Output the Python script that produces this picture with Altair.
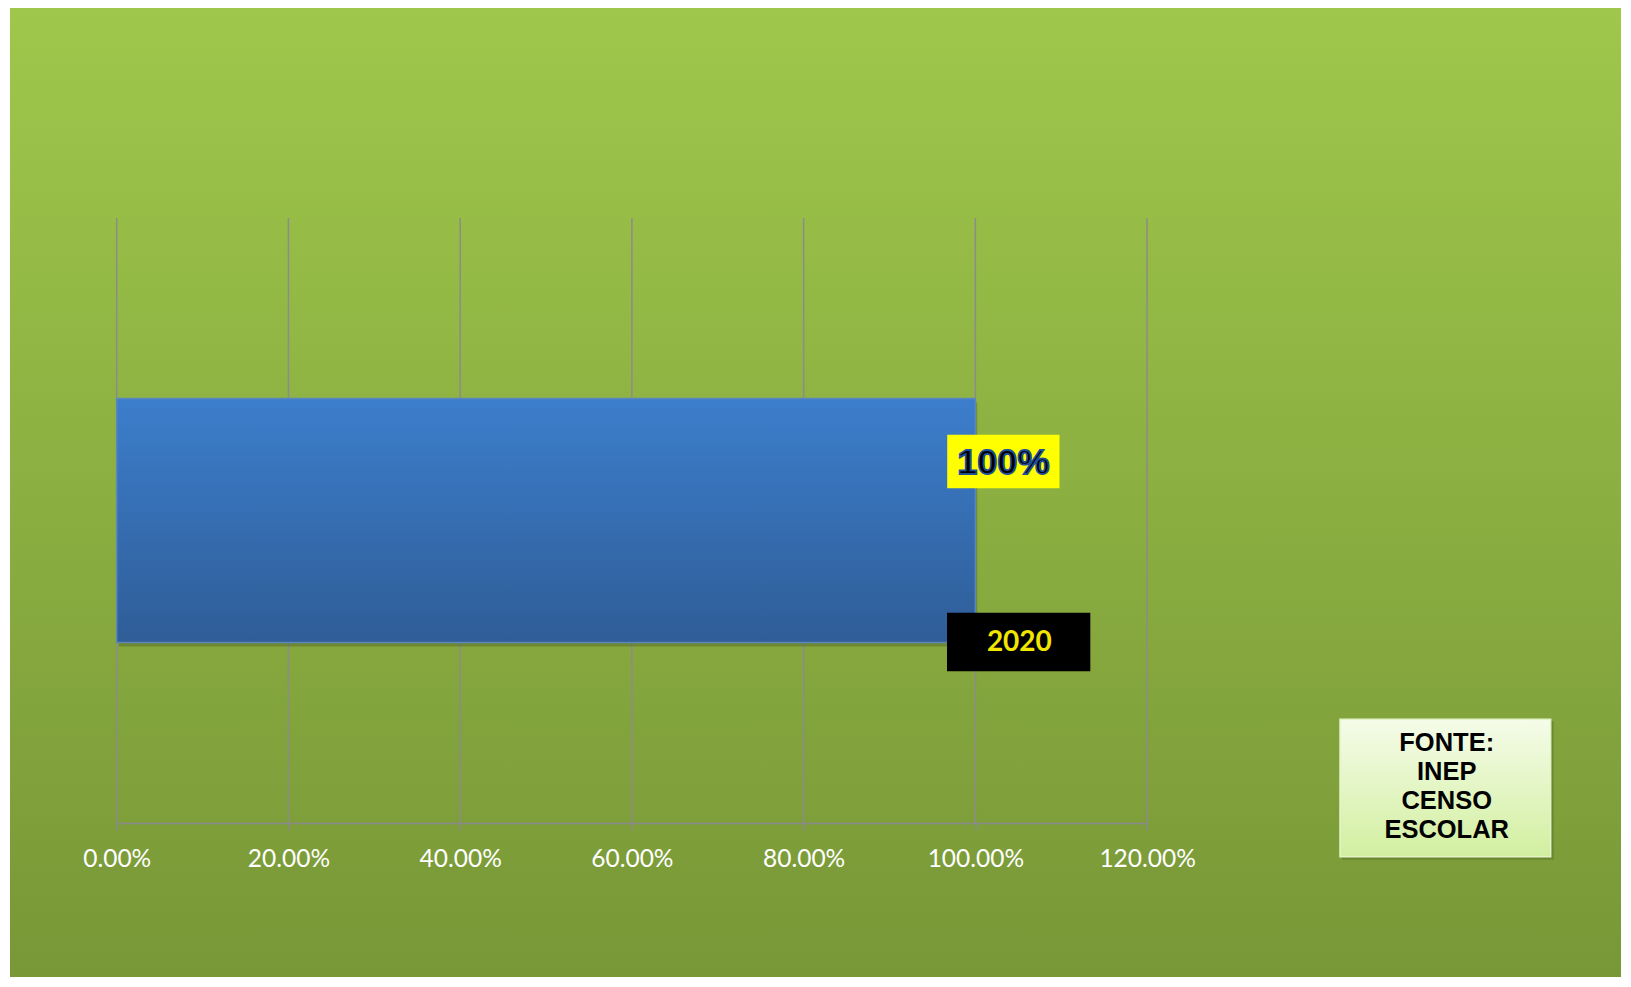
import altair as alt
import pandas as pd

# ---- data ----
years = ["2020"]
values = [1.0]
tick_values = [0.0, 0.2, 0.4, 0.6, 0.8, 1.0, 1.2]
source_text = ["FONTE:\nINEP\nCENSO\nESCOLAR"]

# ---- layout (plot area) ----
W, H = 1030.4, 605
PAD_L, PAD_T, PAD_R, PAD_B = 108.7, 210, 474, 154

df = pd.DataFrame({"ano": years, "valor": values})
ticks_df = pd.DataFrame({"t": tick_values})
src_df = pd.DataFrame({"txt": source_text})

xscale = alt.Scale(domain=[0, 1.2], nice=False, zero=True)
yscale = alt.Scale(paddingInner=0, paddingOuter=0.74)
xaxis = alt.Axis(
    values=tick_values, format=".2%", title=None, grid=False,
    domainColor="#8a8a8a", domainWidth=1.5, tickColor="#8a8a8a", tickWidth=1.5,
    tickSize=7, labelColor="white", labelFont="Lato", labelFontSize=24.5,
    labelBaseline="middle", labelPadding=30, zindex=1, labelFlush=False,
)

def lin(stops):
    return alt.Gradient(
        gradient="linear",
        stops=[alt.GradientStop(color=c, offset=o) for o, c in stops],
        x1=0, x2=0, y1=0, y2=1,
    )

bg = alt.Chart(df).mark_rect(
    color=lin([(0, "#9fc74b"), (1, "#789737")])
).encode(
    x=alt.value(-106.7), x2=alt.value(W + PAD_R),
    y=alt.value(-PAD_T), y2=alt.value(H + PAD_B),
)

grid = alt.Chart(ticks_df).mark_rule(color="#8c8c8c", strokeWidth=1.5).encode(
    x=alt.X("t:Q", scale=xscale, axis=xaxis)
)

shadow = alt.Chart(df).mark_bar(color="black", opacity=0.18, yOffset=4, xOffset=2).encode(
    x=alt.X("valor:Q", scale=xscale, axis=xaxis),
    y=alt.Y("ano:N", scale=yscale, axis=None),
)

bar = alt.Chart(df).mark_bar(
    color=lin([(0, "#3c7ecc"), (1, "#2f5d97")]),
    stroke="#5d86bd", strokeWidth=1.5,
).encode(
    x=alt.X("valor:Q", scale=xscale, axis=xaxis),
    y=alt.Y("ano:N", scale=yscale, axis=None),
)

val_box = alt.Chart(df).mark_point(
    shape="M-1,-0.478H1V0.478H-1Z", size=12611, filled=True,
    fill="#ffff00", opacity=1, strokeWidth=0, xOffset=28, yOffset=-59,
).encode(
    x=alt.X("valor:Q", scale=xscale, axis=xaxis),
    y=alt.Y("ano:N", scale=yscale, axis=None),
)

val_text = alt.Chart(df).mark_text(
    font="Liberation Sans", fontWeight="bold", fontSize=36,
    fill="black", stroke="#1f4f99", strokeWidth=1.8,
    align="center", baseline="middle", dx=28, dy=-58,
).encode(
    x=alt.X("valor:Q", scale=xscale, axis=xaxis),
    y=alt.Y("ano:N", scale=yscale, axis=None),
    text=alt.Text("valor:Q", format=".0%"),
)

cat_box = alt.Chart(df).mark_point(
    shape="M-1,-0.4075H1V0.4075H-1Z", size=20535, filled=True,
    fill="black", opacity=1, strokeWidth=0, xOffset=43.3, yOffset=121.5,
).encode(
    x=alt.X("valor:Q", scale=xscale, axis=xaxis),
    y=alt.Y("ano:N", scale=yscale, axis=None),
)

cat_text = alt.Chart(df).mark_text(
    font="Lato", fontWeight="bold", fontSize=28, color="#f2e600",
    align="center", baseline="middle", dx=44, dy=122.5,
).encode(
    x=alt.X("valor:Q", scale=xscale, axis=xaxis),
    y=alt.Y("ano:N", scale=yscale, axis=None),
    text="ano:N",
)

src_shadow = alt.Chart(src_df).mark_rect(color="#5e7a2a", opacity=0.6).encode(
    x=alt.value(1225.3), x2=alt.value(1437), y=alt.value(503.3), y2=alt.value(641.7)
)
src_box = alt.Chart(src_df).mark_rect(
    color=lin([(0, "#f5fce9"), (1, "#d2efa0")]), stroke="#e3f3c8", strokeWidth=1.5
).encode(
    x=alt.value(1223.3), x2=alt.value(1434), y=alt.value(501.3), y2=alt.value(638.7)
)
src_text = alt.Chart(src_df).mark_text(
    font="Liberation Sans", fontWeight="bold", fontSize=25.5, color="black",
    align="center", baseline="alphabetic", lineBreak="\n", lineHeight=29,
).encode(
    x=alt.value(1330), y=alt.value(532.7), text="txt:N"
)

chart = alt.layer(
    bg, grid, shadow, bar, val_box, val_text, cat_box, cat_text,
    src_shadow, src_box, src_text,
).properties(
    width=W, height=H,
    autosize=alt.AutoSizeParams(type="none"),
    padding={"left": PAD_L, "top": PAD_T, "right": PAD_R, "bottom": PAD_B},
).configure_view(stroke=None)

chart.save("out.html", embed_options={"renderer": "svg", "actions": False})
